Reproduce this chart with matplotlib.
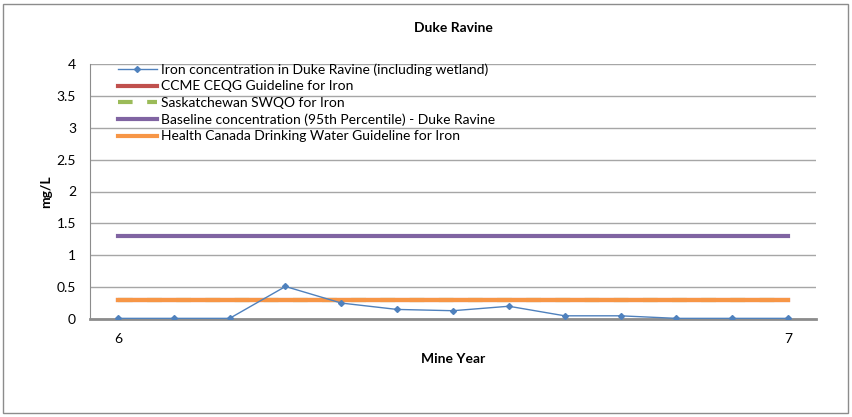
# Duke Ravine iron concentration chart

import matplotlib
matplotlib.use('Agg')
import matplotlib.pyplot as plt
from matplotlib import rcParams
from matplotlib.patches import Rectangle

rcParams['font.family'] = ['Lato', 'DejaVu Sans']
rcParams['font.size'] = 10

# data (monthly samples over mine year 6 to 7)
mine_year = [6 + i / 12 for i in range(13)]
iron = [0.01, 0.01, 0.01, 0.51, 0.25, 0.15, 0.13, 0.20, 0.05, 0.05, 0.01, 0.01, 0.01]
ccme = [0.3] * 13
sask_swqo = [0.3] * 13
baseline = [1.3] * 13
health_canada = [0.3] * 13

y_ticks = [0, 0.5, 1, 1.5, 2, 2.5, 3, 3.5, 4]
y_tick_labels = ['0', '0.5', '1', '1.5', '2', '2.5', '3', '3.5', '4']
x_ticks = [6, 7]

fig = plt.figure(figsize=(8.52, 4.17), dpi=100)
ax = fig.add_axes([90 / 852, 1 - 319 / 417, (816 - 90) / 852, (319 - 64) / 417])

# outer chart border
fig.patches.append(Rectangle((3 / 852, 4 / 417), 845 / 852, 409 / 417, transform=fig.transFigure,
                             fill=False, edgecolor='#8c8c8c', linewidth=1))

ax.plot(mine_year, iron, color='#4F81BD', linewidth=1, marker='D', markersize=3,
        label='Iron concentration in Duke Ravine (including wetland)', zorder=6)
ax.plot(mine_year, ccme, color='#C0504D', linewidth=3, label='CCME CEQG Guideline for Iron', zorder=3)
ax.plot(mine_year, sask_swqo, color='#9BBB59', linewidth=3, linestyle=(0, (3.5, 3.5)),
        label='Saskatchewan SWQO for Iron', zorder=4)
ax.plot(mine_year, baseline, color='#8064A2', linewidth=3,
        label='Baseline concentration (95th Percentile) - Duke Ravine', zorder=5)
ax.plot(mine_year, health_canada, color='#F79646', linewidth=3,
        label='Health Canada Drinking Water Guideline for Iron', zorder=5)

ax.set_xlim(6 - 1 / 24, 7 + 1 / 24)
ax.set_ylim(0, 4)
ax.set_yticks(y_ticks)
ax.set_yticklabels(y_tick_labels)
ax.set_xticks(x_ticks)
ax.tick_params(axis='both', length=0, labelsize=10, colors='black')
ax.tick_params(axis='y', pad=10)
ax.tick_params(axis='x', pad=10)

ax.grid(axis='y', color='#a6a6a6', linewidth=1)
ax.set_axisbelow(True)
for side in ['top', 'right']:
    ax.spines[side].set_visible(False)
ax.spines['left'].set_color('#8c8c8c')
ax.spines['bottom'].set_color('#8c8c8c')
ax.spines['bottom'].set_linewidth(2)

ax.set_title('Duke Ravine', fontsize=10, fontweight='bold', pad=23)
ax.set_xlabel('Mine Year', fontsize=10, fontweight='bold', labelpad=6)
ax.set_ylabel('mg/L', fontsize=10, fontweight='bold', labelpad=3)

ax.legend(loc='upper left', bbox_to_anchor=(0.0386, 1.002), frameon=False, fontsize=10,
          handlelength=2.8, handletextpad=0.3, labelspacing=0.32, borderaxespad=0.0,
          borderpad=0.0)

fig.savefig('out.png', dpi=100)
